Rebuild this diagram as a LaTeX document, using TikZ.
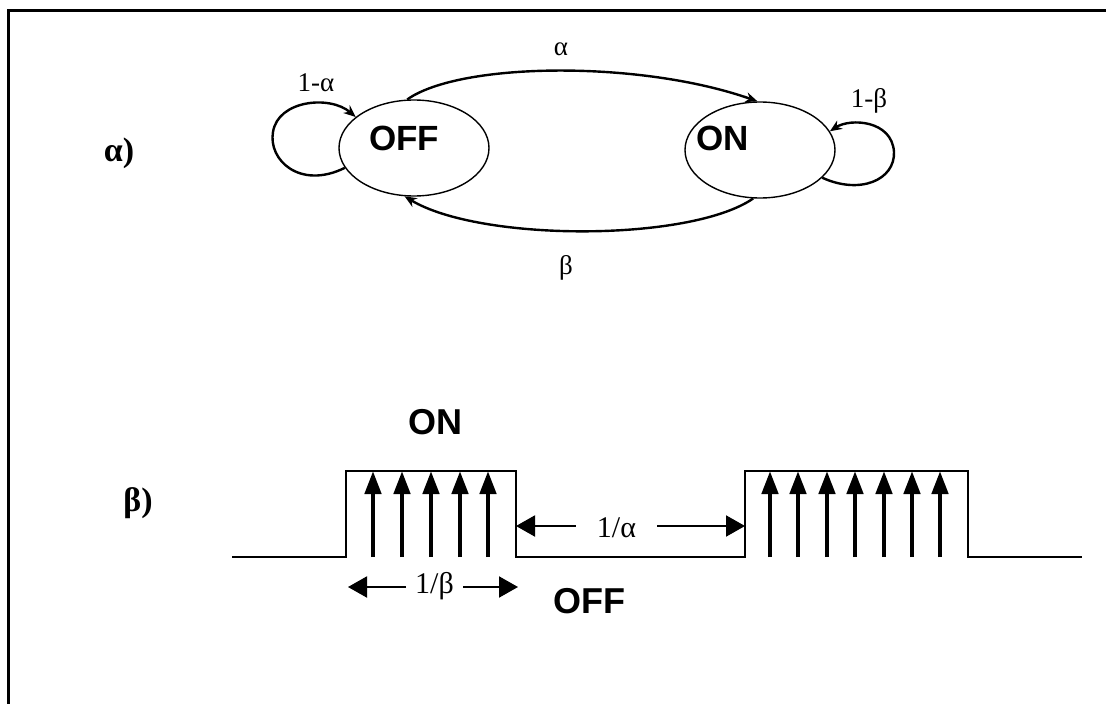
\documentclass[tikz,border=0pt]{standalone}
\usepackage{fontspec}
\setmainfont{Liberation Serif}
\newfontfamily\arialfont{Liberation Sans}
\usetikzlibrary{shapes.geometric,arrows.meta}
\begin{document}
\begin{tikzpicture}[x=1pt,y=-1pt,
  state/.style={draw, ellipse, line width=1.4pt, minimum width=150pt, minimum height=96pt, inner sep=0pt},
  bigsans/.style={font=\arialfont\bfseries\fontsize{35}{40}\selectfont, inner sep=0pt},
  smallserif/.style={font=\fontsize{27}{30}\selectfont, inner sep=0pt, anchor=base},
  serif/.style={font=\fontsize{30}{34}\selectfont, inner sep=0pt, anchor=base},
  panel/.style={font=\bfseries\fontsize{34}{38}\selectfont, inner sep=0pt},
  arc/.style={line width=2.4pt, -{Stealth[length=12pt,width=10pt]}},
  wave/.style={line width=2pt},
  spike/.style={line width=4.5pt, -{Triangle[length=23pt,width=16pt]}},
  dim/.style={line width=2pt, -{Triangle[length=19pt,width=21pt]}},
  frame/.style={line width=3pt}
]
\useasboundingbox (0,0) rectangle (1106,704);
\clip (0,0) rectangle (1106,704);
% frame
\draw[frame] (1120,10.5) -- (8.5,10.5) -- (8.5,720);

% panel labels
\node[panel] (pa) at (119,153) {α)};
\node[panel] (pb) at (138,503) {β)};

% state diagram
\node[state] (off) at (414,148) {};
\node[state] (on) at (760,150) {};
\node[bigsans] (offt) at (404,138) {OFF};
\node[bigsans] (ont) at (723,138) {ON};

\draw[arc] (off.98) .. controls (460,62) and (640,60) .. (on.93);
\draw[arc] (on.262) .. controls (690,242) and (480,242) .. (off.259);
\draw[arc] (off.196) .. controls (300,190) and (268,160) .. (273,132)
           .. controls (278,100) and (330,95) .. (off.152);
\draw[arc] (on.336) .. controls (860,195) and (895,180) .. (894,152)
           .. controls (892,120) and (850,118) .. (on.15);

\node[smallserif] (la) at (561,55) {α};
\node[smallserif] (lb) at (566,274) {β};
\node[smallserif] (l1a) at (316,91) {1-α};
\node[smallserif] (l1b) at (869,107) {1-β};

% waveform
\draw[wave] (232,557) -- (346,557) -- (346,471) -- (516,471) -- (516,557)
  -- (745,557) -- (745,471) -- (968,471) -- (968,557) -- (1082,557);
\foreach \x in {373,402,431,460,488}
  \draw[spike] (\x,557) -- (\x,471);
\foreach \x in {770,798,827,855,884,912,940}
  \draw[spike] (\x,557) -- (\x,471);

\node[bigsans, font=\arialfont\bfseries\fontsize{36}{40}\selectfont] (won) at (435,422) {ON};
\node[bigsans, font=\arialfont\bfseries\fontsize{36}{40}\selectfont] (woff) at (589,601) {OFF};

\coordinate (aL) at (516,526);
\coordinate (aR) at (745,526);
\node[serif] (ta) at (616.5,537) {1/α};
\draw[dim] ([xshift=-21pt]ta.west |- aL) -- (aL);
\draw[dim] ([xshift=21pt]ta.east |- aR) -- (aR);

\coordinate (bL) at (348,587);
\coordinate (bR) at (518,587);
\node[serif] (tb) at (434.5,593) {1/β};
\draw[dim] ([xshift=-9pt]tb.west |- bL) -- (bL);
\draw[dim] ([xshift=9pt]tb.east |- bR) -- (bR);
\end{tikzpicture}
\end{document}
